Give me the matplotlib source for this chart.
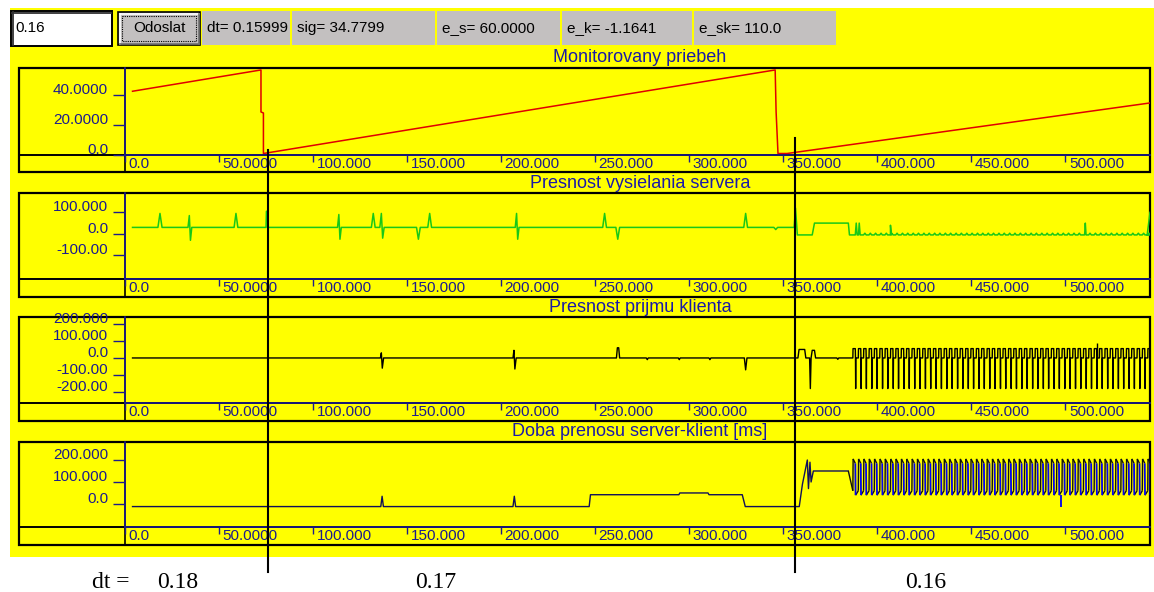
import matplotlib
matplotlib.use("Agg")
import matplotlib.pyplot as plt
from matplotlib.patches import Rectangle
from matplotlib.collections import LineCollection
import matplotlib.transforms as mtransforms

plt.rcParams['font.family'] = ['Liberation Sans', 'DejaVu Sans']

# ---------------- data ----------------
input_value = "0.16"
button_label = "Odoslat"
status_fields = ["dt= 0.15999", "sig= 34.7799", "e_s= 60.0000", "e_k= -1.1641", "e_sk= 110.0"]
panel_titles = ["Monitorovany priebeh", "Presnost vysielania servera",
                "Presnost prijmu klienta", "Doba prenosu server-klient [ms]"]

x_range = (0, 545)
x_ticks = [0, 50, 100, 150, 200, 250, 300, 350, 400, 450, 500]
x_tick_labels = ["0.0", "50.0000", "100.000", "150.000", "200.000", "250.000",
                 "300.000", "350.000", "400.000", "450.000", "500.000"]

y_ticks = [[0, 20, 40], [100, 0, -100], [200, 100, 0, -100, -200], [200, 100, 0]]
y_tick_labels = [["0.0", "20.0000", "40.0000"],
                 ["100.000", "0.0", "-100.00"],
                 ["200.000", "100.000", "0.0", "-100.00", "-200.00"],
                 ["200.000", "100.000", "0.0"]]
y_ranges = [(0, 58), (-210, 190), (-265, 241), (-105, 282)]

# panel 1: monitored sawtooth
monitor_x = [4, 72.3, 72.3, 73.6, 73.6, 345.7, 346.2, 347.2, 352.0, 545]
monitor_y = [42.5, 56.7, 28.7, 28.0, 1.0, 56.7, 28.7, 1.0, 1.0, 34.7]

# panel 2: server send accuracy
server_x = [4, 17.5, 18.6, 19.7, 33.5, 34.2, 34.8, 35.5, 58, 59, 60, 75, 75.2, 75.9, 76.1,
            113, 113.7, 114.3, 115, 131, 132, 133, 135.5, 136.3, 137, 137.8, 155, 156, 157,
            161, 162, 163, 207.5, 208.2, 208.8, 209.5, 254, 255, 256, 261, 262, 263,
            329, 330, 331, 345, 346, 347, 355.8, 356.5, 357.5, 365.4, 366.6, 384.6, 385.2,
            388.3, 388.8, 389.3, 390, 390.4, 390.9]
server_y = [30, 30, 95, 30, 30, 85, -30, 30, 30, 95, 30, 30, 105, 105, 30,
            30, 90, -25, 30, 30, 95, 30, 30, 95, -20, 30, 30, -25, 30,
            30, 95, 30, 30, 95, -25, 30, 30, 95, 30, 30, -25, 30,
            30, 95, 30, 30, 20, 30, 30, 120, -5, -5, 50, 50, -5,
            -5, 50, -5, -5, 50, -5]
server_late_spike_x = [407.0, 510.6]
server_late_spike_y = [40, 50]
server_end_x = [543.5, 545]
server_end_y = [-5, 100]

# panel 3: client receive accuracy
client_x = [4, 135.8, 136.3, 136.8, 137.5, 206.3, 206.8, 207.3, 208, 261.3, 261.8, 262.5, 263,
            277.2, 277.7, 278.2, 294.2, 294.7, 295.2, 310.5, 311, 311.5, 329.3, 330, 330.7,
            357.8, 358.4, 361.4, 362, 364, 364.4, 364.8, 365.4, 366.6, 367.2,
            378.5, 379, 379.5, 386.5]
client_y = [0, 0, 30, -60, 0, 0, 45, -65, 0, 0, 60, 60, 0,
            0, -10, 0, 0, -10, 0, 0, -10, 0, 0, -70, 0,
            0, 50, 50, 0, 0, -180, 0, 45, 45, 0,
            0, -8, 0, 0]
client_spike_x = [517.0]
client_spike_y = [90]

# panel 4: transfer time server-client [ms]
transfer_x = [4, 136, 136.7, 137.4, 206.3, 207, 207.7, 246.8, 247.5, 294.5, 295, 310, 310.5,
              328.2, 329.8, 358.5, 360.2, 362.8, 363.4, 364.2, 364.8, 366, 384.6]
transfer_y = [-12, -12, 35, -12, -12, 35, -12, -12, 42, 42, 50, 50, 42,
              42, -12, -12, 90, 200, 70, 190, 100, 150, 150]
transfer_dip_x = [497.9]
transfer_dip_y = [-15]

# start times of the oscillation cycles (from x ~ 387 to the end)
burst_t = [387.0, 389.9, 392.7, 395.6, 398.4, 401.3, 404.1, 407.0, 409.8, 412.7, 415.5,
           418.4, 421.2, 424.1, 426.9, 429.8, 432.6, 435.5, 438.3, 441.2, 444.0, 446.9,
           449.7, 452.6, 455.4, 458.3, 461.1, 464.0, 466.8, 469.7, 472.5, 475.4, 478.2,
           481.1, 483.9, 486.8, 489.6, 492.5, 495.3, 498.2, 501.0, 503.9, 506.7, 509.6,
           512.4, 515.3, 518.1, 521.0, 523.8, 526.7, 529.5, 532.4, 535.2, 538.1, 540.9,
           543.8]

cursor_x = [76.1, 356.4]
dt_labels = ["0.18", "0.17", "0.16"]

# ---------------- style / layout ----------------
W, H, DPI = 1154, 592, 100
YELLOW = '#ffff00'
GRAY = '#c3c0c0'
NAVY = '#1c1c8c'
TITLE_BLUE = '#1a1aa8'
FS = 11

fig = plt.figure(figsize=(W / DPI, H / DPI), dpi=DPI)
fig.patch.set_facecolor('white')

bg = fig.add_axes([0, 0, 1, 1], zorder=0)
bg.set_xlim(0, W)
bg.set_ylim(H, 0)
bg.axis('off')

bg.add_patch(Rectangle((10, 8), W - 10, 549, fc=YELLOW, ec='none'))

# header: input box
bg.add_patch(Rectangle((11, 11), 101, 35, fc='white', ec='black', lw=1.4))
bg.plot([12, 111], [12.5, 12.5], color='#303030', lw=1.3)
bg.plot([12.5, 12.5], [12, 45], color='#303030', lw=1.3)
bg.text(15, 28, input_value, ha='left', va='center', fontsize=FS, color='black')

# header: button
bg.add_patch(Rectangle((118, 12), 82, 33, fc=GRAY, ec='black', lw=1.2))
bg.plot([119.5, 198.5], [13.5, 13.5], color='white', lw=1.2)
bg.plot([119.5, 119.5], [13.5, 43.5], color='white', lw=1.2)
bg.plot([119.5, 198.5], [43.5, 43.5], color='#707070', lw=1.2)
bg.plot([198.5, 198.5], [13.5, 43.5], color='#707070', lw=1.2)
bg.add_patch(Rectangle((122, 16), 74, 25, fill=False, ec='black', lw=0.8, ls=(0, (1, 1))))
bg.text(159, 28, button_label, ha='center', va='center', fontsize=FS, color='black')

# header: status fields
cells = [(202, 290), (292, 435), (437, 560), (562, 692), (694, 836)]
for (x0, x1), s in zip(cells, status_fields):
    bg.add_patch(Rectangle((x0, 11), x1 - x0, 34, fc=GRAY, ec='none'))
    bg.text(x0 + 5, 28, s, ha='left', va='center', fontsize=FS, color='black')

rows = [(68, 155, 172, 58), (193, 279, 297, 183), (317, 403, 421, 307), (442, 527, 545, 431)]
LEFT, DIV, RIGHT = 19, 125, 1150

axes = []
for i, (top, axis_y, bottom, title_y) in enumerate(rows):
    bg.add_patch(Rectangle((LEFT, top), RIGHT - LEFT, bottom - top, fill=False, ec='black', lw=1.6))
    bg.plot([LEFT, RIGHT], [axis_y, axis_y], color='black', lw=1.4)
    bg.plot([DIV, DIV], [top, bottom], color='black', lw=1.2)
    bg.text(640, title_y, panel_titles[i], ha='center', va='center', fontsize=13, color=TITLE_BLUE)

    ax = fig.add_axes([DIV / W, 1 - axis_y / H, (RIGHT - DIV) / W, (axis_y - top) / H], zorder=2)
    ax.set_facecolor('none')
    ax.set_xlim(*x_range)
    ax.set_ylim(*y_ranges[i])
    for s in ['top', 'right']:
        ax.spines[s].set_visible(False)
    for s in ['left', 'bottom']:
        ax.spines[s].set_color(NAVY)
        ax.spines[s].set_linewidth(1.2)
    ax.set_xticks(x_ticks)
    ax.set_xticklabels([])
    ax.set_yticks(y_ticks[i])
    ax.set_yticklabels([])
    ax.tick_params(axis='x', direction='out', length=5, width=1, color=NAVY)
    ax.tick_params(axis='y', direction='out', length=8.5, width=1, color=NAVY)
    xt = mtransforms.blended_transform_factory(ax.transData, ax.transAxes) + \
        mtransforms.ScaledTranslation(3.5 / DPI, -8.5 / DPI, fig.dpi_scale_trans)
    for v, s in zip(x_ticks, x_tick_labels):
        ax.text(v, 0, s, transform=xt, ha='left', va='center', fontsize=FS, color=NAVY, clip_on=False)
    yt = mtransforms.blended_transform_factory(ax.transAxes, ax.transData) + \
        mtransforms.ScaledTranslation(-17 / DPI, 1 / DPI, fig.dpi_scale_trans)
    for v, s in zip(y_ticks[i], y_tick_labels[i]):
        ax.text(0, v, s, transform=yt, ha='right', va='baseline', fontsize=FS, color=NAVY, clip_on=False)
    axes.append(ax)

# --- panel 1
axes[0].plot(monitor_x, monitor_y, color='#e00000', lw=1.1)

# --- panel 2
late = []
for t in burst_t:
    if t > 391:
        late += [(t, -5), (t + 0.7, 3), (t + 1.4, -5)]
for x, y in zip(server_late_spike_x, server_late_spike_y):
    late += [(x - 0.5, -5), (x, y), (x + 0.5, -5)]
late.sort(key=lambda p: p[0])
sx = list(server_x) + [p[0] for p in late] + server_end_x
sy = list(server_y) + [p[1] for p in late] + server_end_y
axes[1].plot(sx, sy, color='#18c818', lw=1.1)

# --- panel 3
cx = list(client_x)
cy = list(client_y)
for t in burst_t:
    cx += [t, t + 0.1, t + 1.3, t + 1.4, t + 1.5, t + 1.6]
    cy += [0, 55, 55, 0, -180, 0]
axes[2].plot(cx, cy, color='black', lw=1.0)
axes[2].vlines(client_spike_x, 0, client_spike_y, color='black', lw=1.0)

# --- panel 4
axes[3].plot(transfer_x, transfer_y, color='#10105a', lw=1.0)
black_segs = [[(transfer_x[-1], transfer_y[-1]), (burst_t[0], 60)]]
blue_segs = []
for k, t in enumerate(burst_t):
    t_next = burst_t[k + 1] if k + 1 < len(burst_t) else t + 2.85
    black_segs.append([(t, 60), (t + 0.15, 205)])
    black_segs.append([(t + 0.15, 205), (t + 1.3, 185)])
    blue_segs.append([(t + 1.3, 185), (t + 1.45, 40)])
    black_segs.append([(t + 1.45, 40), (t_next, 60)])
axes[3].add_collection(LineCollection(black_segs, colors='#101010', linewidths=1.0))
axes[3].add_collection(LineCollection(blue_segs, colors='#0000f0', linewidths=1.3))
axes[3].vlines(transfer_dip_x, 40, transfer_dip_y, color='#0000f0', lw=1.3)

# --- cursor lines and dt annotations
fg = fig.add_axes([0, 0, 1, 1], zorder=5)
fg.set_xlim(0, W)
fg.set_ylim(H, 0)
fg.axis('off')
fg.patch.set_alpha(0)
ctrans = mtransforms.blended_transform_factory(axes[0].transData, fg.transData)
for c, y0 in zip(cursor_x, [150, 138]):
    fg.plot([c, c], [y0, 572], transform=ctrans, color='black', lw=1.5, clip_on=False)

serif = ['Liberation Serif', 'DejaVu Serif']
fg.text(92, 582, "dt =", family=serif, fontsize=17, ha='left', va='center')
for xpos, s in zip([157, 415, 905], dt_labels):
    fg.text(xpos, 582, s, family=serif, fontsize=17, ha='left', va='center')

fig.savefig("out.png", dpi=DPI, facecolor='white')
